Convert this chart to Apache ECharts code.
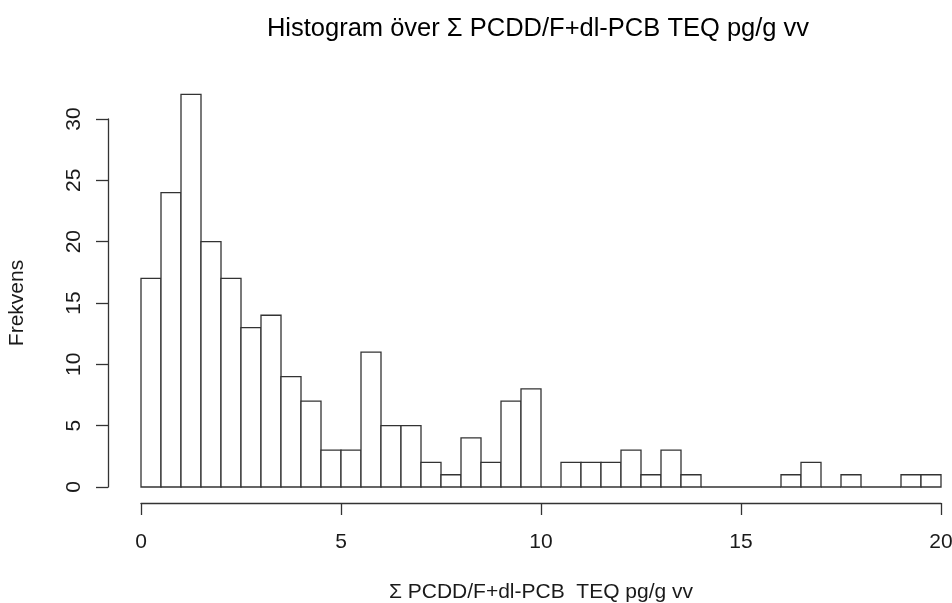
<!DOCTYPE html>
<html>
<head>
<meta charset="utf-8">
<script src="https://cdn.jsdelivr.net/npm/echarts@6/dist/echarts.min.js"></script>
<style>
html, body { margin: 0; padding: 0; background: #fff; }
#chart { width: 952px; height: 603px; }
</style>
</head>
<body>
<div id="chart"></div>
<script>
// bin edges every 0.5 from 0 to 20
var binStarts = [0, 0.5, 1, 1.5, 2, 2.5, 3, 3.5, 4, 4.5, 5, 5.5, 6, 6.5, 7, 7.5, 8, 8.5, 9, 9.5,
	10, 10.5, 11, 11.5, 12, 12.5, 13, 13.5, 14, 14.5, 15, 15.5, 16, 16.5, 17, 17.5, 18, 18.5, 19, 19.5];
var binWidth = 0.5;
var counts = [17, 24, 32, 20, 17, 13, 14, 9, 7, 3, 3, 11, 5, 5, 2, 1, 4, 2, 7, 8,
	0, 2, 2, 2, 3, 1, 3, 1, 0, 0, 0, 0, 1, 2, 0, 1, 0, 0, 1, 1];
var xTicks = [0, 5, 10, 15, 20];
var yTicks = [0, 5, 10, 15, 20, 25, 30];

var titleText = "Histogram över Σ PCDD/F+dl-PCB TEQ pg/g vv";
var xName = "Σ PCDD/F+dl-PCB  TEQ pg/g vv";
var yName = "Frekvens";

var lineCol = "#333";
var textCol = "#1a1a1a";
var font = "Liberation Sans, Arial, sans-serif";

var histData = binStarts.map(function (s, i) { return [s, s + binWidth, counts[i]]; });

var chart = echarts.init(document.getElementById("chart"));
var option = {
	animation: false,
	backgroundColor: "#fff",
	title: {
		text: titleText,
		left: 533,
		top: 11,
		textAlign: "center",
		textStyle: { fontFamily: font, fontSize: 25.5, fontWeight: "normal", color: "#000" }
	},
	grid: { left: 141, right: 11, top: 119, bottom: 116, containLabel: false, outerBoundsMode: "none" },
	xAxis: {
		type: "value",
		min: 0, max: 20, interval: 5,
		offset: 16,
		name: xName,
		nameLocation: "middle",
		nameGap: 79,
		nameTextStyle: { fontFamily: font, fontSize: 21, color: textCol },
		splitLine: { show: false },
		axisLine: { show: true, onZero: false, lineStyle: { color: lineCol, width: 1.3 } },
		axisTick: { show: true, length: 12, lineStyle: { color: lineCol, width: 1.3 } },
		axisLabel: {
			fontFamily: font, fontSize: 21, color: textCol, margin: 29,
			formatter: function (v) { return xTicks.indexOf(v) >= 0 ? String(v) : ""; }
		}
	},
	yAxis: {
		type: "value",
		min: 0, max: 30, interval: 5,
		offset: 33,
		name: yName,
		nameLocation: "middle",
		nameGap: 80,
		nameRotate: 90,
		nameTextStyle: { fontFamily: font, fontSize: 21, color: textCol },
		splitLine: { show: false },
		axisLine: { show: true, onZero: false, lineStyle: { color: lineCol, width: 1.3 } },
		axisTick: { show: true, length: 12, lineStyle: { color: lineCol, width: 1.3 } },
		axisLabel: {
			fontFamily: font, fontSize: 21, color: textCol, margin: 34, rotate: 90,
			verticalAlign: "middle", align: "center",
			formatter: function (v) { return yTicks.indexOf(v) >= 0 ? String(v) : ""; }
		}
	},
	series: [{
		type: "custom",
		clip: false,
		data: histData,
		renderItem: function (params, api) {
			var p0 = api.coord([api.value(0), 0]);
			var p1 = api.coord([api.value(1), api.value(2)]);
			return {
				type: "rect",
				shape: { x: p0[0], y: p1[1], width: p1[0] - p0[0], height: p0[1] - p1[1] },
				style: { fill: "#fff", stroke: lineCol, lineWidth: 1.3 }
			};
		}
	}]
};
chart.setOption(option);
</script>
</body>
</html>
